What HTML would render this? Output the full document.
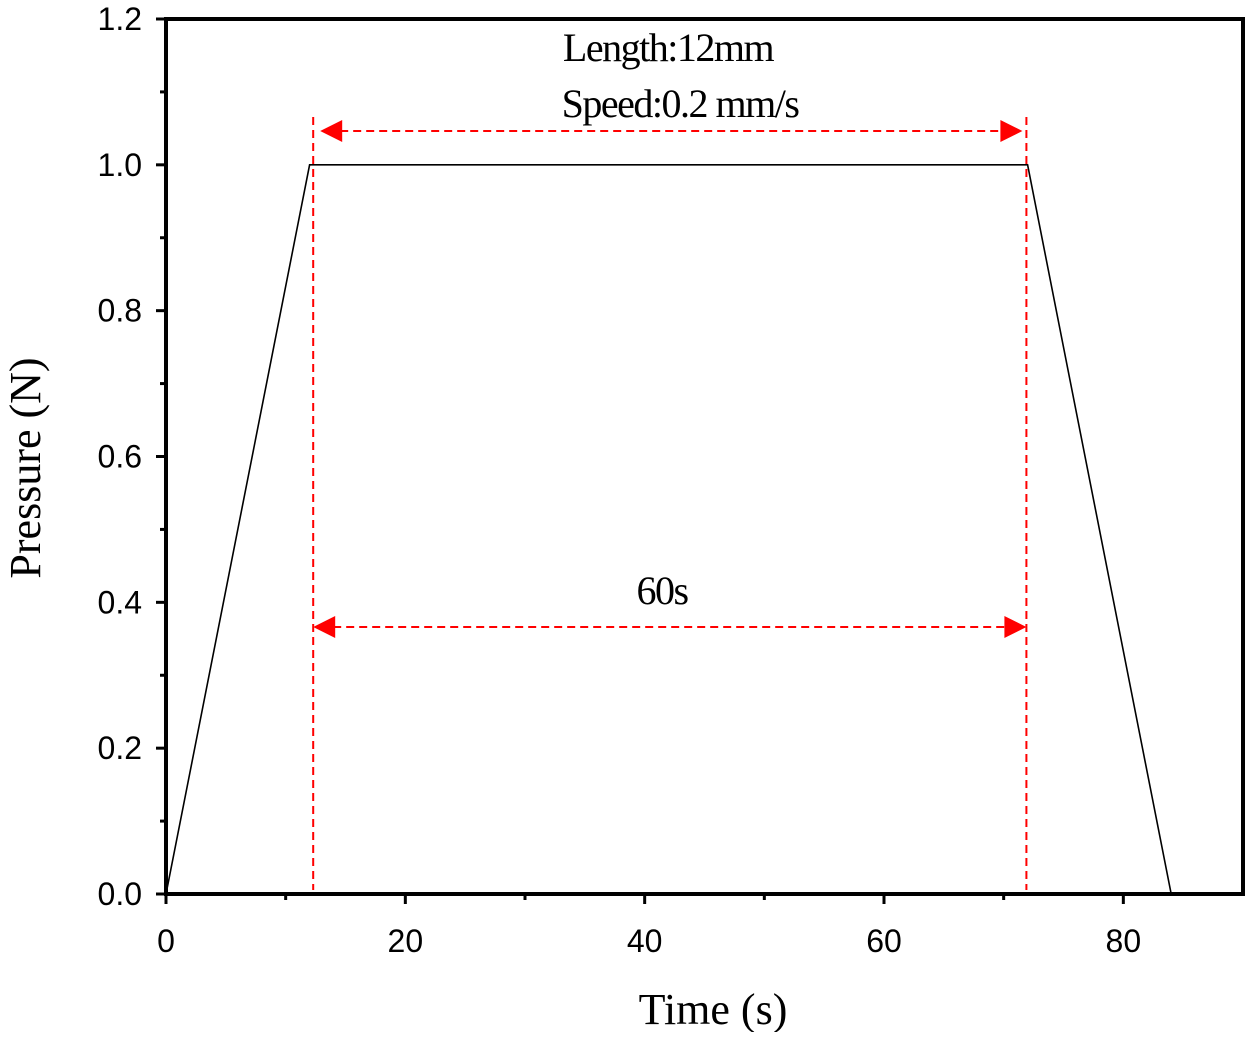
<!DOCTYPE html>
<html><head><meta charset="utf-8"><style>
body{margin:0;background:#fff}
svg text{font-family:"Liberation Sans",sans-serif}
.serif{font-family:"Liberation Serif",serif}
</style></head><body>
<svg id="c" width="1260" height="1032"></svg>
<script>
const xTicks=[0,20,40,60,80];
const yTicks=[0.0,0.2,0.4,0.6,0.8,1.0,1.2];
const timeVals=[0,12,72,84];
const pressureVals=[0,1,1,0];
const markerTimes=[12.3,71.9];
const X0=166,X1=1243,Y0=894,Y1=19,XMAX=90,YMAX=1.2;
const sx=v=>X0+v/XMAX*(X1-X0), sy=v=>Y0-v/YMAX*(Y0-Y1);
const svg=document.getElementById('c');const NS='http://www.w3.org/2000/svg';
function mk(t,a,p){const e=document.createElementNS(NS,t);for(const k in a)e.setAttribute(k,a[k]);(p||svg).appendChild(e);return e;}
let e;
e=mk('rect',{x:X0,y:Y1,width:X1-X0,height:Y0-Y1,fill:'none',stroke:'#000','stroke-width':4});

xTicks.forEach((t,i)=>{
 e=mk('line',{x1:sx(t),x2:sx(t),y1:Y0,y2:Y0+10,stroke:'#000','stroke-width':3});
 
 if(i<xTicks.length-1){e=mk('line',{x1:sx(t+10),x2:sx(t+10),y1:Y0,y2:Y0+6,stroke:'#000','stroke-width':3});
 }
 e=mk('text',{x:sx(t),y:Y0+58,'text-anchor':'middle','font-size':32});e.textContent=t;
 
});
yTicks.forEach((t,i)=>{
 e=mk('line',{x1:X0-10,x2:X0,y1:sy(t),y2:sy(t),stroke:'#000','stroke-width':3});
 
 if(i<yTicks.length-1){e=mk('line',{x1:X0-6,x2:X0,y1:sy(t+0.1),y2:sy(t+0.1),stroke:'#000','stroke-width':3});
 }
 e=mk('text',{x:X0-24,y:sy(t)+11,'text-anchor':'end','font-size':32});e.textContent=t.toFixed(1);
 
});
e=mk('polyline',{points:timeVals.map((t,i)=>sx(t)+','+sy(pressureVals[i])).join(' '),fill:'none',stroke:'#000','stroke-width':1.6});

markerTimes.forEach(t=>{
 e=mk('line',{x1:sx(t),x2:sx(t),y1:117,y2:890,stroke:'#f00','stroke-width':2,'stroke-dasharray':'8,5'});
 
});
[[131,'speed-arrow',1],[627,'duration-arrow',0]].forEach(([y,n,inset])=>{
 const a=sx(markerTimes[0])+(inset?7:0),b=sx(markerTimes[1])-(inset?4:0);
 e=mk('line',{x1:a+20,x2:b-20,y1:y,y2:y,stroke:'#f00','stroke-width':2,'stroke-dasharray':'8,5'});
 
 e=mk('polygon',{points:`${a},${y} ${a+22},${y-11} ${a+22},${y+11}`,fill:'#f00'});
 
 e=mk('polygon',{points:`${b},${y} ${b-22},${y-11} ${b-22},${y+11}`,fill:'#f00'});
 
});
[['Length:12mm',668,61,'length-label'],['Speed:0.2 mm/s',680,117,'speed-label'],['60s',662,604,'duration-label']].forEach(([s,x,y,n])=>{
 e=mk('text',{x:x,y:y,'text-anchor':'middle','font-size':40,'letter-spacing':-1.5,class:'serif'});e.textContent=s;
 
});
e=mk('text',{x:713,y:1024,'text-anchor':'middle','font-size':44,class:'serif'});e.textContent='Time (s)';

e=mk('text',{x:0,y:0,'text-anchor':'middle','font-size':44,class:'serif',transform:'translate(40,468) rotate(-90)'});e.textContent='Pressure (N)';

</script>
</body></html>
